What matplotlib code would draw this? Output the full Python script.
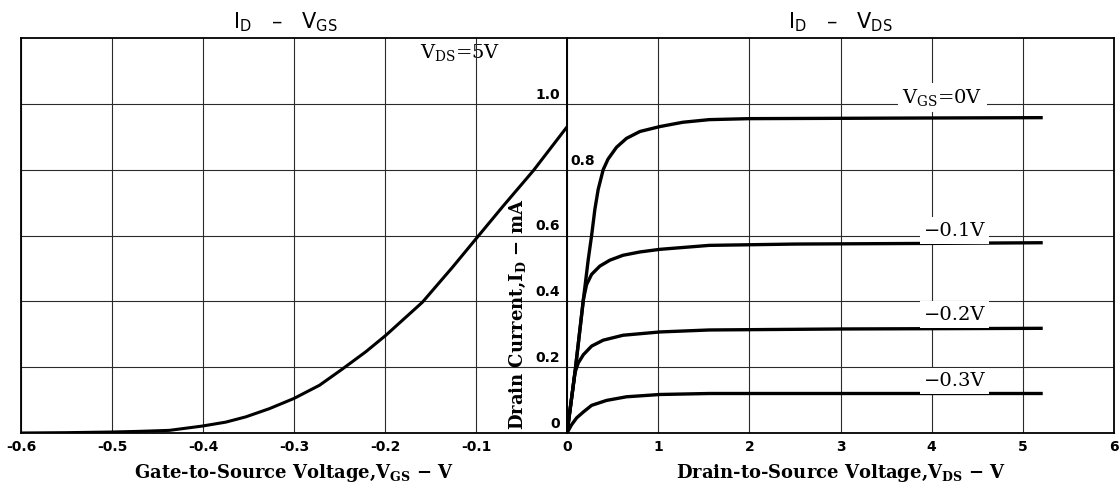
import matplotlib.pyplot as plt

plt.rcParams['axes.unicode_minus'] = False

# I_D - V_GS at V_DS = 5 V
vgs = [-0.6, -0.55, -0.5, -0.47, -0.437, -0.401, -0.375, -0.353, -0.327, -0.3, -0.272,
       -0.247, -0.221, -0.199, -0.159, -0.126, -0.1, -0.07, -0.037, 0.0]
id_vgs = [0.0, 0.001, 0.003, 0.005, 0.008, 0.021, 0.033, 0.049, 0.074, 0.105, 0.145,
          0.194, 0.247, 0.297, 0.397, 0.503, 0.59, 0.69, 0.797, 0.93]

# I_D - V_DS family
vds_0 = [0, 0.087, 0.18, 0.233, 0.27, 0.306, 0.342, 0.397, 0.45, 0.543, 0.652, 0.8, 1.02,
         1.27, 1.56, 2.0, 3.0, 4.0, 5.2]
id_0 = [0, 0.183, 0.406, 0.527, 0.6, 0.68, 0.74, 0.8, 0.832, 0.868, 0.895, 0.916, 0.931,
        0.944, 0.952, 0.955, 0.956, 0.957, 0.958]

vds_1 = [0, 0.087, 0.18, 0.215, 0.27, 0.36, 0.47, 0.615, 0.8, 1.02, 1.56, 2.5, 4.0, 5.2]
id_1 = [0, 0.183, 0.406, 0.451, 0.482, 0.507, 0.525, 0.54, 0.55, 0.558, 0.57, 0.574, 0.576, 0.578]

vds_2 = [0, 0.087, 0.124, 0.18, 0.27, 0.397, 0.615, 1.02, 1.56, 3.0, 5.2]
id_2 = [0, 0.183, 0.213, 0.238, 0.264, 0.282, 0.297, 0.307, 0.313, 0.316, 0.318]

vds_3 = [0, 0.05, 0.106, 0.18, 0.27, 0.434, 0.652, 1.02, 1.56, 3.0, 5.2]
id_3 = [0, 0.025, 0.046, 0.064, 0.084, 0.099, 0.11, 0.117, 0.12, 0.12, 0.12]

curve_labels = ['$\\mathregular{V_{GS}}$=0V', '\u22120.1V', '\u22120.2V', '\u22120.3V']
label_pos = [(4.12, 1.02), (4.25, 0.615), (4.25, 0.36), (4.25, 0.158)]

left_ticks = [-0.6, -0.5, -0.4, -0.3, -0.2, -0.1]
left_ticklabels = ['-0.6', '-0.5', '-0.4', '-0.3', '-0.2', '-0.1']
right_ticks = [0, 1, 2, 3, 4, 5, 6]
right_ticklabels = ['0', '1', '2', '3', '4', '5', '6']
y_ticks = [0, 0.2, 0.4, 0.6, 0.8, 1.0]
y_ticklabels = ['0', '0.2', '0.4', '0.6', '0.8', '1.0']

serif_b = {'family': 'DejaVu Serif', 'weight': 'bold'}
serif = {'family': 'DejaVu Serif', 'weight': 'normal'}
sans_tick = {'family': 'DejaVu Sans', 'weight': 'bold', 'size': 10}

fig = plt.figure(figsize=(11.2, 4.92), dpi=100)
axl = fig.add_axes([21 / 1120, 59 / 492, 546 / 1120, 395 / 492])
axr = fig.add_axes([567 / 1120, 59 / 492, 547 / 1120, 395 / 492])

for ax in (axl, axr):
    ax.set_ylim(0, 1.2)
    ax.set_yticks([0.2, 0.4, 0.6, 0.8, 1.0])
    ax.set_yticklabels([])
    ax.tick_params(length=0, pad=5)
    ax.grid(True, color='#2a2a2a', lw=0.8)
    for s in ax.spines.values():
        s.set_linewidth(1.3)
        s.set_color('black')

axl.set_xlim(-0.6, 0)
axl.set_xticks(left_ticks)
axl.set_xticklabels(left_ticklabels, fontdict=sans_tick)
axr.set_xlim(0, 6)
axr.set_xticks(right_ticks)
axr.set_xticklabels(right_ticklabels, fontdict=sans_tick)

axl.plot(vgs, id_vgs, color='black', lw=2.2, solid_joinstyle='round')
for xs, ys in [(vds_0, id_0), (vds_1, id_1), (vds_2, id_2), (vds_3, id_3)]:
    axr.plot(xs, ys, color='black', lw=2.4, solid_joinstyle='round')

for txt, (x, y) in zip(curve_labels, label_pos):
    axr.text(x, y, txt, ha='center', va='center', fontsize=14, fontdict=serif,
             bbox=dict(facecolor='white', edgecolor='none', pad=3))

# y tick labels sit next to the I_D axis
for v, lab in zip(y_ticks, y_ticklabels):
    if lab == '0.8':
        axr.annotate(lab, (0, v), xytext=(3, 2), textcoords='offset pixels',
                     ha='left', va='bottom', fontsize=10, fontweight='bold')
    else:
        axl.annotate(lab, (0, v), xytext=(-7, 2), textcoords='offset pixels',
                     ha='right', va='bottom', fontsize=10, fontweight='bold')

axl.text(-0.117, 1.155, '$\\mathregular{V_{DS}}$=5V', ha='center', va='center',
         fontsize=14, fontdict=serif, zorder=1,
         bbox=dict(facecolor='white', edgecolor='none', pad=2))

axl.text(-0.054, 0.36, 'Drain Current,$\\mathregular{I_D}$ \u2212 mA', rotation=90,
         ha='center', va='center', fontsize=13, fontdict=serif_b)

axl.set_xlabel('Gate-to-Source Voltage,$\\mathregular{V_{GS}}$ \u2212 V', fontdict=serif_b,
               fontsize=13, labelpad=6)
axr.set_xlabel('Drain-to-Source Voltage,$\\mathregular{V_{DS}}$ \u2212 V', fontdict=serif_b,
               fontsize=13, labelpad=6)

axl.set_title('I$\\mathregular{_D}$   \u2013   V$\\mathregular{_{GS}}$', fontsize=15, pad=7, x=0.485)
axr.set_title('I$\\mathregular{_D}$   \u2013   V$\\mathregular{_{DS}}$', fontsize=15, pad=7)

fig.savefig('out.png', dpi=100, facecolor='white')
